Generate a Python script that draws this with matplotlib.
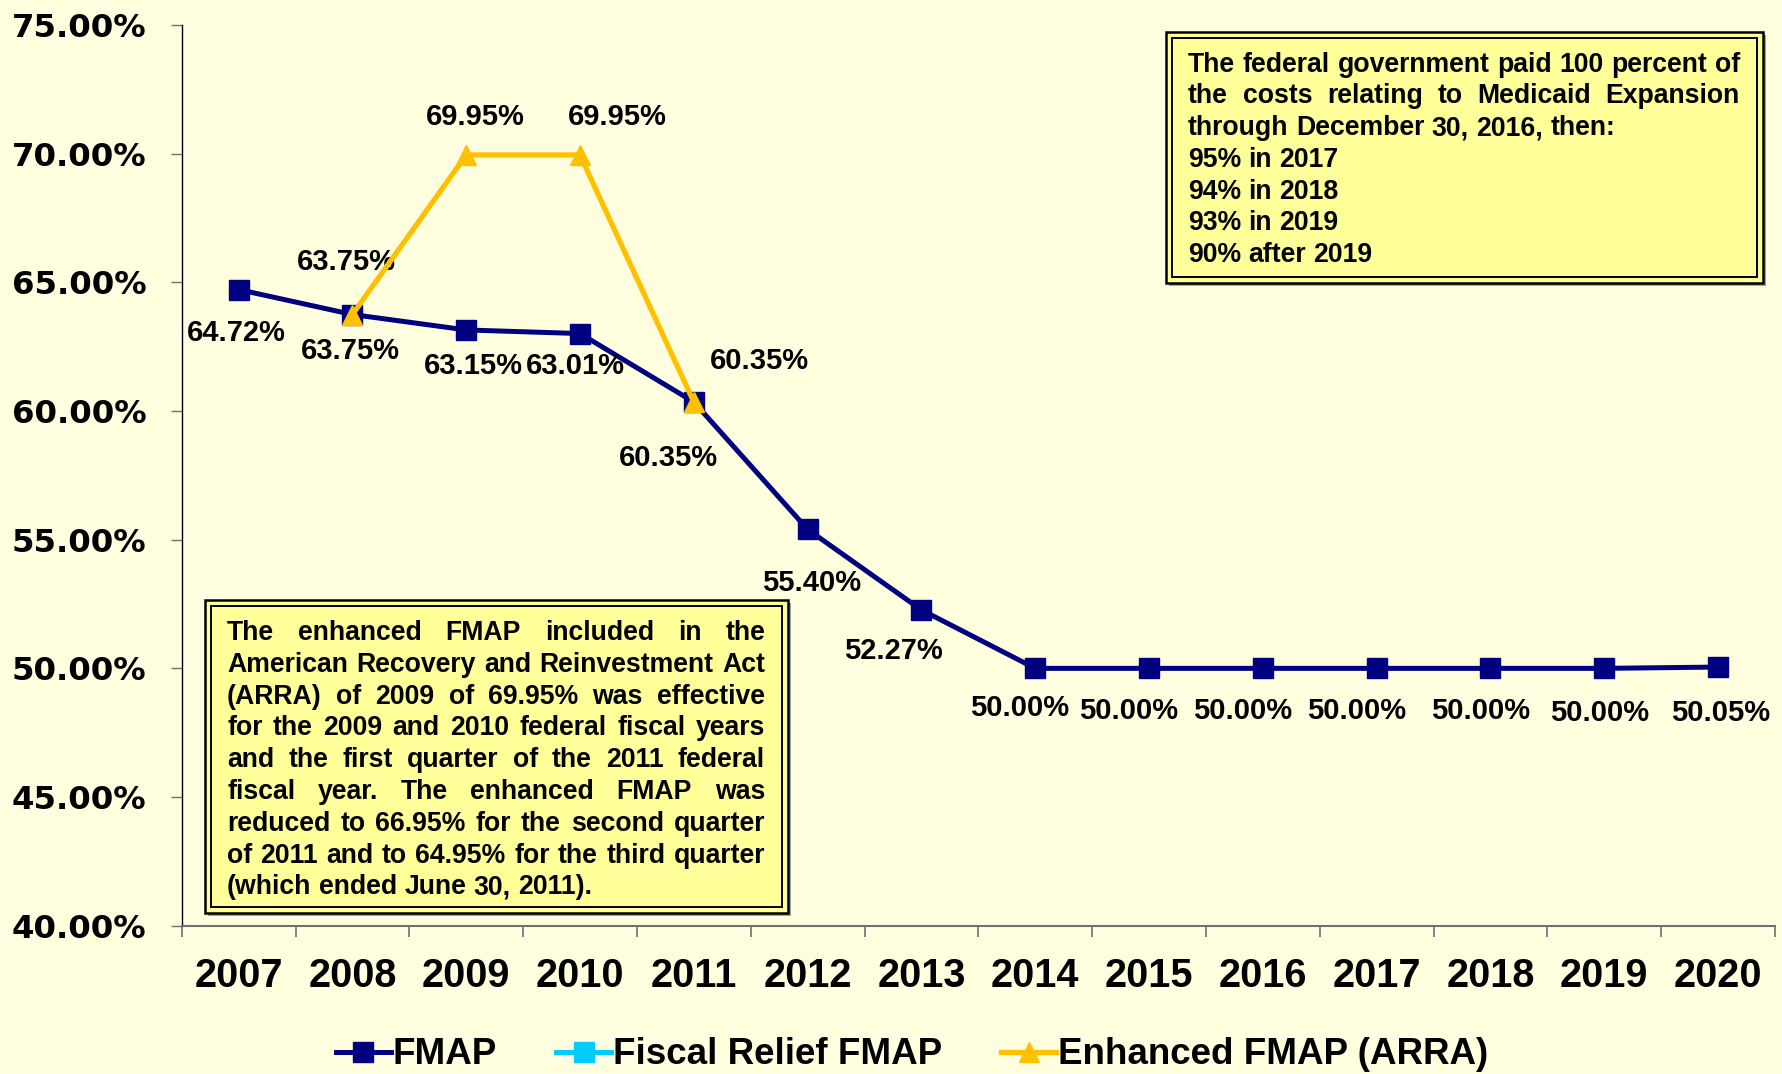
import matplotlib
matplotlib.use("Agg")
import matplotlib.pyplot as plt
from matplotlib.patches import Rectangle
from matplotlib.lines import Line2D
from matplotlib.ticker import FuncFormatter
from matplotlib.transforms import IdentityTransform
import numpy as np

# ==================== data ====================
years = ["2007", "2008", "2009", "2010", "2011", "2012", "2013",
         "2014", "2015", "2016", "2017", "2018", "2019", "2020"]
fmap = [64.72, 63.75, 63.15, 63.01, 60.35, 55.40, 52.27,
        50.00, 50.00, 50.00, 50.00, 50.00, 50.00, 50.05]
fiscal_relief_fmap = []   # legend only, no values on the chart
enhanced_fmap = [None, 63.75, 69.95, 69.95, 60.35, None, None,
                 None, None, None, None, None, None, None]

# label offsets (points) for the value labels
fmap_offsets = [(-1.6, -31.5), (-1.6, -26), (5, -26), (-3, -23.5), (-18, -40.5), (2.5, -38.5), (-20.5, -29.5),
                (-11.5, -28.7), (-14.7, -31), (-14.7, -31), (-14.7, -31), (-7.4, -31), (-3.3, -32), (1.6, -32.8)]
enh_offsets = {1: (-4, 37.7), 2: (6.6, 27), 3: (27, 27), 4: (47.5, 29.5)}

note_right = [
    ("The federal government paid 100 percent of", True),
    ("the costs relating to Medicaid Expansion", True),
    ("through December 30, 2016, then:", False),
    ("95% in 2017", False),
    ("94% in 2018", False),
    ("93% in 2019", False),
    ("90% after 2019", False),
]
note_left = [
    ("The enhanced FMAP included in the", True),
    ("American Recovery and Reinvestment Act", True),
    ("(ARRA) of 2009 of 69.95% was effective", True),
    ("for the 2009 and 2010 federal fiscal years", True),
    ("and the first quarter of the 2011 federal", True),
    ("fiscal year. The enhanced FMAP was", True),
    ("reduced to 66.95% for the second quarter", True),
    ("of 2011 and to 64.95% for the third quarter", True),
    ("(which ended June 30, 2011).", False),
]

NAVY = "#000080"
GOLD = "#FFC000"
CYAN = "#00CCFF"
BG = "#FFFFE0"
BOX = "#FFFF99"
FONT = "Liberation Sans"

W, H = 1783, 1074
fig = plt.figure(figsize=(W / 100, H / 100), dpi=100, facecolor=BG)
ax = fig.add_axes([181.7 / W, 1 - 925.7 / H, (1775 - 181.7) / W, (925.7 - 25) / H])
ax.set_facecolor(BG)

x = np.arange(len(years))
fmap_arr = np.array(fmap, dtype=float)
enh_arr = np.array(enhanced_fmap, dtype=float)

ax.plot(x, fmap_arr, color=NAVY, lw=3.6, marker="s", ms=14, zorder=3)
ax.plot(x, enh_arr, color=GOLD, lw=3.8, marker="^", ms=15, zorder=4)
ax.plot(x[:len(fiscal_relief_fmap)], fiscal_relief_fmap, color=CYAN, lw=3.6, marker="s", ms=14)

# value labels
lab = dict(fontsize=21, fontweight="bold", family=FONT, ha="center", va="center",
           textcoords="offset points")
for i, v in enumerate(fmap):
    ax.annotate(f"{v:.2f}%", (x[i], v), xytext=fmap_offsets[i], **lab)
for i, v in enumerate(enhanced_fmap):
    if v is not None:
        ax.annotate(f"{v:.2f}%", (x[i], v), xytext=enh_offsets[i], **lab)

# axes
ax.set_xlim(-0.5, len(years) - 0.5)
ax.set_ylim(40, 75)
ax.set_yticks(np.arange(40, 76, 5))
ax.yaxis.set_major_formatter(FuncFormatter(lambda v, p: f"{v:.2f}%"))
ax.set_xticks(x)
ax.set_xticklabels(years)
ax.set_xticks(np.arange(-0.5, len(years), 1), minor=True)
ax.tick_params(axis="x", which="major", length=0, pad=22.5)
ax.tick_params(axis="x", which="minor", length=8, width=1.2, color="#707070", direction="out")
ax.tick_params(axis="y", length=8, width=1, color="#707070", direction="out", pad=17.5)
for t in ax.get_xticklabels():
    t.set_fontsize(28.5)
    t.set_fontweight("bold")
    t.set_family(FONT)
for t in ax.get_yticklabels():
    t.set_fontsize(23.3)
    t.set_fontweight("bold")
    t.set_family("DejaVu Sans")
ax.spines["top"].set_visible(False)
ax.spines["right"].set_visible(False)
ax.spines["left"].set_color("black")
ax.spines["left"].set_linewidth(1.0)
ax.spines["bottom"].set_color("#707070")
ax.spines["bottom"].set_linewidth(1.5)

# legend
handles = [
    Line2D([], [], color=NAVY, lw=3.6, marker="s", ms=14),
    Line2D([], [], color=CYAN, lw=3.6, marker="s", ms=14),
    Line2D([], [], color=GOLD, lw=3.8, marker="^", ms=15),
]
fig.legend(handles, ["FMAP", "Fiscal Relief FMAP", "Enhanced FMAP (ARRA)"],
           loc="center", bbox_to_anchor=(912 / W, 1 - 1055 / H), ncol=3, frameon=False,
           prop={"family": FONT, "weight": "bold", "size": 26.5},
           handlelength=1.5, handletextpad=0.05, columnspacing=1.6)


# ==================== text boxes ====================
def draw_box(x0, y0, x1, y1):
    # double border, pixel coords from top-left
    tr = IdentityTransform()
    fig.patches.append(Rectangle((x0 + 3, H - y1 - 3), x1 - x0, y1 - y0, transform=tr,
                                 facecolor="#A0A0A0", edgecolor="none", zorder=5))
    fig.patches.append(Rectangle((x0, H - y1), x1 - x0, y1 - y0, transform=tr,
                                 facecolor=BOX, edgecolor="black", lw=1.8, zorder=6))
    fig.patches.append(Rectangle((x0 + 6, H - y1 + 6), x1 - x0 - 12, y1 - y0 - 12, transform=tr,
                                 facecolor="none", edgecolor="black", lw=1.4, zorder=7))


def draw_lines(lines, left, right, first_base, step, size=19.2):
    renderer = fig.canvas.get_renderer()
    tr = IdentityTransform()
    for i, (line, justify) in enumerate(lines):
        yb = H - (first_base + i * step)
        words = line.split(" ")
        texts = [fig.text(0, yb, w, transform=tr, fontsize=size, fontweight="bold",
                          family=FONT, ha="left", va="baseline", zorder=8) for w in words]
        widths = [t.get_window_extent(renderer).width for t in texts]
        if justify and len(words) > 1:
            gap = (right - left - sum(widths)) / (len(words) - 1)
        else:
            sp = fig.text(0, 0, "a a", fontsize=size, fontweight="bold", family=FONT)
            sp2 = fig.text(0, 0, "aa", fontsize=size, fontweight="bold", family=FONT)
            gap = sp.get_window_extent(renderer).width - sp2.get_window_extent(renderer).width
            sp.remove()
            sp2.remove()
        xpos = left
        for t, w in zip(texts, widths):
            t.set_x(xpos)
            xpos += w + gap


draw_box(1166, 32, 1763, 283)
draw_lines(note_right, 1188, 1740, 71.5, 31.8)
draw_box(205, 600, 788, 913)
draw_lines(note_left, 227, 765, 640, 31.8)

fig.savefig("out.png", dpi=100, facecolor=BG)
